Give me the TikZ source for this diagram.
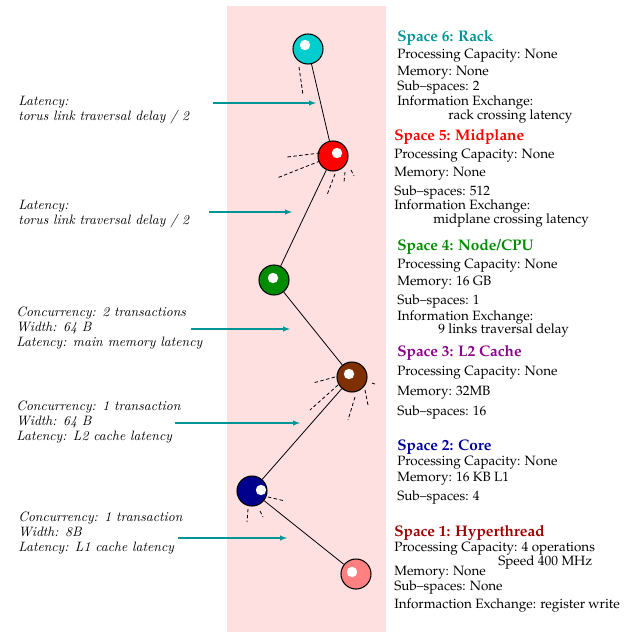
\documentclass[tikz,border=0pt]{standalone}
\usetikzlibrary{arrows}
\definecolor{bgpink}{RGB}{255,224,224}
\definecolor{arrowteal}{RGB}{0,150,150}
\definecolor{rackcol}{RGB}{0,205,205}
\definecolor{midcol}{RGB}{255,0,0}
\definecolor{nodecol}{RGB}{0,140,0}
\definecolor{l2col}{RGB}{128,48,0}
\definecolor{corecol}{RGB}{0,0,140}
\definecolor{htcol}{RGB}{255,128,128}
\definecolor{racktxt}{RGB}{0,150,150}
\definecolor{nodetxt}{RGB}{0,140,0}
\definecolor{l2txt}{RGB}{140,0,140}
\definecolor{coretxt}{RGB}{0,0,160}
\definecolor{httxt}{RGB}{160,0,0}
\newcommand{\palfont}{\fontencoding{T1}\fontfamily{ppl}\selectfont}

\begin{document}
\begin{tikzpicture}[x=0.75pt,y=-0.75pt,
every edge/.style = {draw=black,semithick},
 ball/.style args = {#1/#2/#3}{%
      circle, draw=black, thick, fill=#1,
      minimum size=22.5pt, inner sep=0pt,
      path picture={\fill[white] ([shift={(#2,#3)}]path picture bounding box.center) circle (3.9pt);}},
 ray/.style = {draw=black, semithick, dash pattern=on 2.6pt off 1.8pt},
 link/.style = {draw=arrowteal, thick, -latex},
 note/.style = {anchor=west, inner sep=0pt, align=left,
      font=\fontsize{10.2}{11.25}\selectfont\itshape},
 info/.style = {anchor=west, inner sep=0pt, font=\palfont\fontsize{10.1}{12}\selectfont},
 title/.style = {anchor=west, inner sep=0pt, font=\palfont\fontsize{11.5}{13}\selectfont\bfseries, text=#1}
                    ]
\useasboundingbox (0,0) rectangle (638,633);
\fill[bgpink] (227,6) rectangle (386,632);
%
\node(rack) [ball=rackcol/-3/-4] at (308, 49) {};
\node(mid)  [ball=midcol/4/-3]   at (333,156) {};
\node(cpu)  [ball=nodecol/-1/-2] at (274,280) {};
\node(l2)   [ball=l2col/-3/-3]   at (352,377) {};
\node(core) [ball=corecol/9/-1]  at (252,491) {};
\node(ht)   [ball=htcol/-4/-2]   at (356,574) {};
%
\path   (rack) edge (mid);
\path   (mid)  edge (cpu);
\path   (cpu)  edge (l2);
\path   (l2)   edge (core);
\path   (core) edge (ht);
%
\draw[ray] (299,67) -- (303,95);
\draw[ray] (320,153) -- (287,157);
\draw[ray] (320,161) -- (277,178);
\draw[ray] (335,174) -- (327,195);
\draw[ray] (345,172) -- (344,182);
\draw[ray] (351,170) -- (354,176);
\draw[ray] (335,377) -- (313,383);
\draw[ray] (338,385) -- (310,410);
\draw[ray] (355,397) -- (348,420);
\draw[ray] (365,390) -- (368,405);
\draw[ray] (372,383) -- (375,384);
\draw[ray] (268,497) -- (285,501);
\draw[ray] (248,509) -- (247,522);
\draw[ray] (260,511) -- (263,517);
%
\node(n1) [note] at (18,110) {Latency:\\torus link traversal delay / 2};
\node(n2) [note] at (18,214) {Latency:\\torus link traversal delay / 2};
\node(n3) [note] at (16,328) {Concurrency: 2 transactions\\Width: 64 B\\Latency: main memory latency};
\node(n4) [note] at (16,422) {Concurrency: 1 transaction\\Width: 64 B\\Latency: L2 cache latency};
\node(n5) [note] at (18,533) {Concurrency: 1 transaction\\Width: 8B\\Latency: L1 cache latency};
%
\coordinate (a1s) at (213,103); \coordinate (a1e) at (316,103);
\coordinate (a2s) at (209,212); \coordinate (a2e) at (292,212);
\coordinate (a3s) at (191,329); \coordinate (a3e) at (290,329);
\coordinate (a4s) at (175,423); \coordinate (a4e) at (300,423);
\coordinate (a5s) at (178,538); \coordinate (a5e) at (287,538);
\foreach \i in {1,...,5}
  \draw[link] (a\i s) -- (a\i e);
%
\node(t6) [title=racktxt] at (397,38)  {Space 6: Rack};
\node(t5) [title=midcol]  at (394,137) {Space 5: Midplane};
\node(t4) [title=nodetxt] at (397,247) {Space 4: Node/CPU};
\node(t3) [title=l2txt]   at (397,353) {Space 3: L2 Cache};
\node(t2) [title=coretxt] at (397,447) {Space 2: Core};
\node(t1) [title=httxt]   at (394,533) {Space 1: Hyperthread};
%
\foreach \n/\x/\y/\t in {
  r6a/397/56/{Processing Capacity: None},
  r6b/397/73/{Memory: None},
  r6c/397/88/{Sub--spaces: 2},
  r6d/397/103/{Information Exchange:},
  r6e/448/117/{rack crossing latency},
  r5a/394/156/{Processing Capacity: None},
  r5b/394/174/{Memory: None},
  r5c/394/193/{Sub--spaces: 512},
  r5d/394/207/{Information Exchange:},
  r5e/433/221/{midplane crossing latency},
  r4a/397/266/{Processing Capacity: None},
  r4b/397/283/{Memory: 16 GB},
  r4c/397/302/{Sub--spaces: 1},
  r4d/397/318/{Information Exchange:},
  r4e/438/331/{9 links traversal delay},
  r3a/397/373/{Processing Capacity: None},
  r3b/397/393/{Memory: 32MB},
  r3c/397/413/{Sub--spaces: 16},
  r2a/397/463/{Processing Capacity: None},
  r2b/397/479/{Memory: 16 KB L1},
  r2c/397/498/{Sub--spaces: 4},
  r1a/394/549/{Processing Capacity: 4 operations},
  r1b/498/563/{Speed 400 MHz},
  r1c/394/573/{Memory: None},
  r1d/394/588/{Sub--spaces: None},
  r1e/394/606/{Informaction Exchange: register write}}
  \node(\n) [info] at (\x,\y) {\t};
\end{tikzpicture}
\end{document}
